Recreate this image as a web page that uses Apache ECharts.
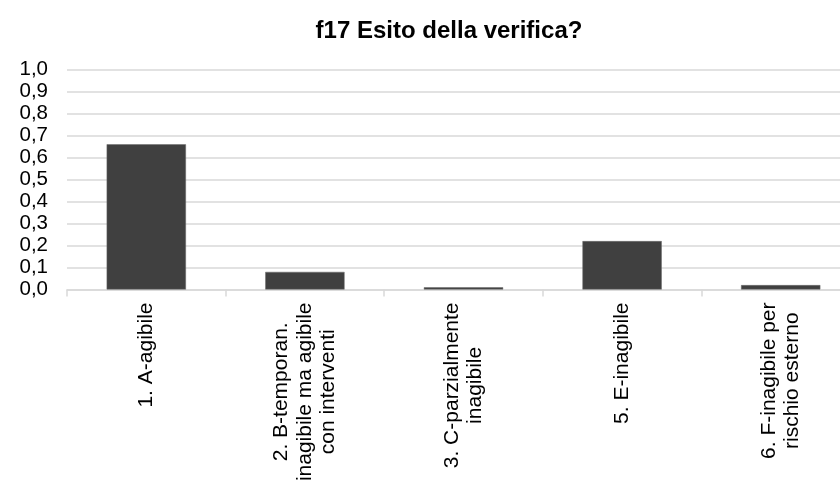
<!DOCTYPE html>
<html><head><meta charset="utf-8">
<script src="https://cdn.jsdelivr.net/npm/echarts@6/dist/echarts.min.js"></script>
<style>html,body{margin:0;padding:0;background:#fff;overflow:hidden;width:840px;height:489px}#c{width:900px;height:489px}</style>
</head><body><div id="c"></div>
<script>
const title = 'f17 Esito della verifica?';
const categories = [
  '1. A-agibile',
  '2. B-temporan.\ninagibile ma agibile\ncon interventi',
  '3. C-parzialmente\ninagibile',
  '5. E-inagibile',
  '6. F-inagibile per\nrischio esterno'
];
const values = [0.66, 0.08, 0.01, 0.22, 0.02];
const yMin = 0, yMax = 1, yStep = 0.1;

const FONT = 'Liberation Sans, Arial, sans-serif';
const chart = echarts.init(document.getElementById('c'), null, {renderer: 'canvas'});
chart.setOption({
  animation: false,
  backgroundColor: '#fff',
  title: {
    text: title, left: 444, top: 14, textAlign: 'center',
    textStyle: {fontFamily: FONT, fontSize: 24, fontWeight: 'bold', color: '#000'}
  },
  grid: {left: 67, top: 69.5, width: 793, height: 220, containLabel: false},
  xAxis: {
    type: 'category', data: categories,
    axisLine: {lineStyle: {color: '#d9d9d9', width: 1.5}},
    axisTick: {show: true, length: 7, lineStyle: {color: '#d9d9d9', width: 1.5}},
    axisLabel: {
      rotate: 90, interval: 0, margin: 13,
      fontFamily: FONT, fontSize: 21, color: '#000',
      formatter: v => v.split('\n').map(s => '{c|' + s + '}').join('\n'),
      rich: {c: {align: 'center', fontFamily: FONT, fontSize: 21, lineHeight: 23.5, color: '#000'}}
    }
  },
  yAxis: {
    type: 'value', min: yMin, max: yMax, interval: yStep,
    axisLine: {show: false}, axisTick: {show: false},
    splitLine: {lineStyle: {color: '#d9d9d9', width: 1.5}},
    axisLabel: {
      margin: 19, fontFamily: FONT, fontSize: 20.5, color: '#000',
      formatter: v => v.toFixed(1).replace('.', ',')
    }
  },
  series: [{
    type: 'bar', data: values, barWidth: '50%',
    itemStyle: {color: '#404040', borderColor: '#6a6a6a', borderWidth: 0.5}
  }]
});
</script></body></html>
